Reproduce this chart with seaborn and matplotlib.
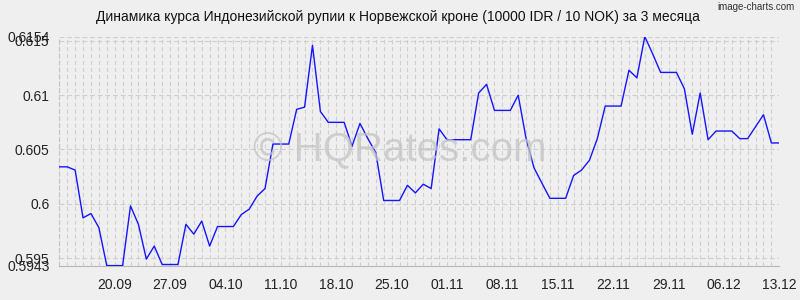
import matplotlib
matplotlib.use("Agg")
import matplotlib.pyplot as plt
import seaborn as sns
import pandas as pd
from datetime import date, timedelta

# ---- data ----
start_date = date(2024, 9, 13)
rates = [
    0.6034, 0.6034, 0.6031, 0.5987, 0.5991, 0.5978, 0.5943, 0.5943, 0.5943, 0.5998,
    0.5981, 0.5949, 0.5961, 0.5944, 0.5944, 0.5944, 0.5981, 0.5972, 0.5984, 0.5961,
    0.5979, 0.5979, 0.5979, 0.5990, 0.5995, 0.6007, 0.6014, 0.6055, 0.6055, 0.6055,
    0.6087, 0.6089, 0.6146, 0.6085, 0.6075, 0.6075, 0.6075, 0.6053, 0.6074, 0.6060,
    0.6047, 0.6003, 0.6003, 0.6003, 0.6017, 0.6010, 0.6018, 0.6014, 0.6069, 0.6059,
    0.6059, 0.6059, 0.6059, 0.6102, 0.6110, 0.6086, 0.6086, 0.6086, 0.6100, 0.6060,
    0.6033, 0.6019, 0.6005, 0.6005, 0.6005, 0.6026, 0.6031, 0.6040, 0.6060, 0.6090,
    0.6090, 0.6090, 0.6123, 0.6116, 0.6154, 0.6138, 0.6121, 0.6121, 0.6121, 0.6106,
    0.6064, 0.6102, 0.6059, 0.6067, 0.6067, 0.6067, 0.6060, 0.6060, 0.6071, 0.6082,
    0.6056, 0.6056,
]
dates = [start_date + timedelta(days=i) for i in range(len(rates))]
x_labels = ["20.09", "27.09", "04.10", "11.10", "18.10", "25.10", "01.11",
            "08.11", "15.11", "22.11", "29.11", "06.12", "13.12"]
y_ticks = [0.5943, 0.595, 0.6, 0.605, 0.61, 0.615, 0.6154]
y_tick_labels = ["0.5943", "0.595", "0.6", "0.605", "0.61", "0.615", "0.6154"]
title = "Динамика курса Индонезийской рупии к Норвежской кроне (10000 IDR / 10 NOK) за 3 месяца"

df = pd.DataFrame({"day": range(len(rates)), "rate": rates,
                   "label": [d.strftime("%d.%m") for d in dates]})

# ---- style ----
sns.set_style("white")
plt.rcParams["font.family"] = ["Liberation Sans", "DejaVu Sans"]
plt.rcParams["lines.scale_dashes"] = False
bg = "#efefef"
grid_c = "#cfcfcf"

fig = plt.figure(figsize=(8, 3), dpi=100, facecolor=bg)
L, R, T, B = 59.3, 779.3, 36.6, 265.6
ax = fig.add_axes([L / 800, 1 - B / 300, (R - L) / 800, (B - T) / 300])
ax.set_facecolor(bg)

sns.lineplot(data=df, x="day", y="rate", ax=ax, color="#1414ff", linewidth=1.0, zorder=5)

ax.set_xlim(0, len(rates) - 1)
ax.set_ylim(y_ticks[0], y_ticks[-1])

# x ticks at labelled dates
pos = [df.index[df["label"] == lab][0] for lab in x_labels]
ax.set_xticks(pos)
ax.set_xticklabels(x_labels)
ax.set_xticks(range(len(rates)), minor=True)
ax.set_yticks(y_ticks)
ax.set_yticklabels(y_tick_labels)

ax.tick_params(axis="both", which="both", length=0, labelsize=10, colors="#222222")
ax.tick_params(axis="x", pad=9)
ax.tick_params(axis="y", pad=7)

ax.grid(True, axis="x", which="both", color=grid_c, linestyle=(0, (3, 2)), linewidth=0.8)
ax.grid(True, axis="y", which="major", color=grid_c, linestyle=(0, (3.5, 2)), linewidth=0.8)
ax.set_axisbelow(True)

for s in ["top", "right"]:
    ax.spines[s].set_visible(False)
ax.spines["bottom"].set_color("#b8b8b8")
ax.spines["bottom"].set_linewidth(0.8)
ax.spines["left"].set_color("#c4c4c4")
ax.spines["left"].set_linewidth(0.8)
ax.spines["left"].set_linestyle((0, (3, 2)))

ax.set_xlabel("")
ax.set_ylabel("")

# title and watermarks
fig.text(0.4975, 1 - 17 / 300, title, ha="center", va="center", fontsize=10, color="#111111")
fig.text(0.993, 1 - 7 / 300, "image-charts.com", ha="right", va="center", fontsize=7,
         color="#333333", family=["Liberation Sans Narrow", "Liberation Sans", "DejaVu Sans"])
fig.text(0.5, 1 - 150 / 300, "© HQRates.com", ha="center", va="center", fontsize=29,
         color="#c4c4c4", alpha=0.75, zorder=3)

fig.savefig("out.png", dpi=100, facecolor=bg)
